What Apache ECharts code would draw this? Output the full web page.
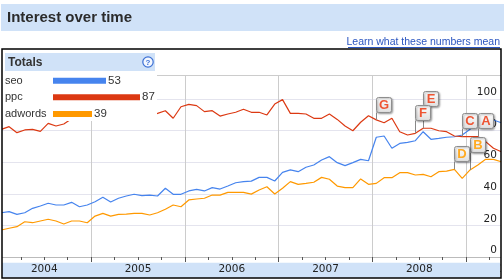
<!DOCTYPE html>
<html><head><meta charset="utf-8">
<script src="https://cdn.jsdelivr.net/npm/echarts@6/dist/echarts.min.js"></script>
<style>html,body{margin:0;padding:0;background:#fff}#c{width:504px;height:280px}</style>
</head><body><div id="c"></div>
<script>
// ---- data ----
const yearLabels = ['2004', '2005', '2006', '2007', '2008', '2009'];
const seriesNames = ['seo', 'ppc', 'adwords'];
const totals = [53, 87, 39];
// monthly values, Jan 2004 .. May 2009
const seo = [28.0, 28.7, 27.0, 28.0, 30.8, 32.3, 34.0, 32.9, 32.9, 34.6, 31.8, 32.9, 35.0, 37.8, 34.8, 37.2,
  38.6, 39.7, 38.8, 39.2, 38.6, 43.5, 39.7, 39.7, 41.8, 42.8, 41.8, 43.9, 43.0, 44.9, 47.0, 47.7,
  48.0, 50.4, 50.4, 48.1, 53.6, 55.1, 54.0, 56.8, 58.2, 61.4, 63.5, 59.7, 57.8, 59.7, 61.8, 60.9,
  75.8, 76.6, 68.8, 71.9, 72.6, 73.6, 79.3, 74.5, 75.1, 75.8, 76.1, 77.2, 80.8, 84.6, 85.0, 86.7, 85.0];
const ppc = [80.8, 82.5, 78.7, 80.4, 80.8, 79.5, 84.6, 82.9, 84.2, 87.5, 89.0, 88.5, 90.0, 88.0, 91.0, 89.0,
  90.5, 88.5, 91.5, 89.5, 90.9, 92.6, 87.8, 95.1, 96.6, 95.8, 92.0, 92.6, 89.2, 90.5, 91.6, 93.5,
  91.6, 91.6, 89.9, 96.8, 99.6, 90.9, 90.9, 90.5, 87.8, 87.8, 90.5, 87.1, 82.9, 79.9, 85.3, 89.4,
  86.8, 85.0, 87.8, 79.3, 77.2, 78.3, 81.5, 81.5, 79.9, 79.3, 76.6, 76.2, 76.2, 76.2, 73.0, 68.8, 66.6];
const adwords = [17.1, 18.2, 19.2, 22.3, 21.7, 22.8, 23.9, 22.8, 20.9, 22.8, 22.8, 21.7, 25.9, 27.6, 25.9, 27.0,
  27.1, 27.6, 27.6, 26.6, 28.0, 30.2, 32.9, 31.8, 36.1, 36.7, 37.2, 39.2, 39.2, 40.9, 40.9, 40.9,
  39.8, 42.4, 44.5, 39.9, 43.5, 47.7, 46.0, 46.6, 47.3, 50.4, 49.2, 44.9, 43.9, 43.9, 49.4, 46.0,
  46.6, 50.2, 50.2, 53.4, 53.4, 51.9, 52.3, 50.8, 54.0, 54.4, 55.5, 49.8, 55.1, 58.2, 61.8, 61.8, 60.3];
const flagLetters = ['G', 'E', 'F', 'C', 'A', 'B', 'D'];
const flagSeries = ['ppc', 'ppc', 'ppc', 'ppc', 'ppc', 'adwords', 'adwords'];
const flagIndex = [48, 54, 53, 59, 61, 60, 58];

// ---- styles / layout ----
const colors = { seo: '#4684ee', ppc: '#dc3912', adwords: '#ff9900' };
const letterColors = { ppc: '#ee5533', adwords: '#ffaa22' };
const flagLift = [8, 22, 13, 9, 9, 18, 8];
const seriesData = { seo, ppc, adwords };
const toPts = arr => arr.map((v, i) => [i + 0.5, v]);
const band = '#d0e2f8';
const sans = '"Liberation Sans", Arial, sans-serif';
const dv = '"DejaVu Sans", Verdana, sans-serif';

const chart = echarts.init(document.getElementById('c'), null, { renderer: 'canvas' });
chart.setOption({
  animation: false,
  grid: [
    { left: -2.6, top: 75.7, width: 519.5, height: 181.3, outerBoundsMode: 'none', containLabel: false },
    { left: 53, top: 72.4, width: 100, height: 49.8, outerBoundsMode: 'none', containLabel: false }
  ],
  xAxis: [
    { type: 'value', gridIndex: 0, min: 0, max: 66.5, interval: 3, position: 'bottom', z: 3,
      axisLine: { show: true, lineStyle: { color: '#bbbbbb', width: 1 } },
      axisTick: { show: true, length: 3, lineStyle: { color: '#555' } },
      splitLine: { show: false },
      axisLabel: { show: true, margin: 7, showMaxLabel: false, color: '#222', fontFamily: dv, fontSize: 10.5,
        formatter: v => (v % 12 === 6 ? yearLabels[(v - 6) / 12] : '') } },
    { type: 'value', gridIndex: 0, min: 0, max: 66.5, interval: 12, position: 'bottom', z: 3,
      axisLine: { show: false },
      axisTick: { show: true, length: 5, lineStyle: { color: '#555' } },
      splitLine: { show: true, lineStyle: { color: '#cccccc', width: 1 } },
      axisLabel: { show: false } },
    { type: 'value', gridIndex: 0, min: 0, max: 66.5, position: 'top', z: 3,
      axisLine: { show: true, lineStyle: { color: '#cccccc', width: 1 } },
      axisTick: { show: false }, splitLine: { show: false }, axisLabel: { show: false } },
    { type: 'value', gridIndex: 1, min: 0, max: 100, show: false }
  ],
  yAxis: [
    { type: 'value', gridIndex: 0, min: 0, max: 114.75, interval: 20, position: 'right', z: 3,
      axisLine: { show: false }, axisTick: { show: false },
      splitLine: { show: true, lineStyle: { color: '#e4e4ee', width: 1 } },
      axisLabel: { inside: true, margin: 20, showMaxLabel: false, verticalAlign: 'bottom', lineHeight: 13,
        color: '#222', fontFamily: dv, fontSize: 10.5 } },
    { type: 'category', gridIndex: 1, data: seriesNames, inverse: true, z: 20,
      axisLine: { show: false }, axisTick: { show: false },
      axisLabel: { align: 'left', margin: 48, color: '#333', fontFamily: sans, fontSize: 11 } }
  ],
  series: [
    { type: 'line', name: 'adwords', data: toPts(adwords), symbol: 'none', z: 4,
      lineStyle: { color: colors.adwords, width: 1.2 } },
    { type: 'line', name: 'seo', data: toPts(seo), symbol: 'none', z: 4,
      lineStyle: { color: colors.seo, width: 1.2 } },
    { type: 'line', name: 'ppc', data: toPts(ppc), symbol: 'none', z: 4,
      lineStyle: { color: colors.ppc, width: 1.2 } },
    { type: 'custom', name: 'flags', z: 6, clip: false,
      data: flagIndex.map((idx, k) => [idx + 0.5, seriesData[flagSeries[k]][idx], flagLift[k]]),
      renderItem: (params, api) => {
        const k = params.dataIndex;
        const p = api.coord([api.value(0), api.value(1)]);
        const lift = api.value(2);
        const x = Math.round(p[0]) + 0.5;
        const yb = Math.round(p[1] - lift) + 0.5;
        return { type: 'group', children: [
          { type: 'line', shape: { x1: x, y1: p[1], x2: x, y2: yb }, style: { stroke: '#888', lineWidth: 1 } },
          { type: 'rect', shape: { x: x, y: yb - 15, width: 15, height: 15, r: 2 },
            style: { fill: new echarts.graphic.LinearGradient(0, 0, 0, 1, [{ offset: 0, color: '#ffffff' }, { offset: 1, color: '#dedede' }]),
              stroke: '#8e8e8e', lineWidth: 1, shadowBlur: 2, shadowOffsetX: 1, shadowOffsetY: 1, shadowColor: 'rgba(0,0,0,0.35)' } },
          { type: 'text', style: { text: flagLetters[k], x: x + 7.5, y: yb - 7, align: 'center', verticalAlign: 'middle',
            fill: letterColors[flagSeries[k]], font: 'bold 13px ' + sans } }
        ] };
      } },
    { type: 'bar', xAxisIndex: 3, yAxisIndex: 1, z: 20, barWidth: 6,
      data: totals.map((v, i) => ({ value: v, itemStyle: { color: colors[seriesNames[i]] } })),
      label: { show: true, position: 'right', distance: 2, color: '#333', fontFamily: sans, fontSize: 11.5 } }
  ],
  graphic: [
    { type: 'rect', z: 1, shape: { x: 1, y: 4, width: 503, height: 27 }, style: { fill: band } },
    { type: 'text', z: 1, style: { text: 'Interest over time', x: 7, y: 18, verticalAlign: 'middle',
      font: 'bold 15px ' + sans, fill: '#2b2b2b' } },
    { type: 'text', z: 1, style: { text: 'Learn what these numbers mean', x: 500, y: 42, align: 'right', verticalAlign: 'middle',
      font: '10.5px ' + sans, fill: '#2a55c0' } },
    { type: 'line', z: 1, shape: { x1: 348, y1: 47.5, x2: 500, y2: 47.5 }, style: { stroke: '#2a55c0', lineWidth: 1 } },
    { type: 'rect', z: 1, shape: { x: 2, y: 262.7, width: 498, height: 15 }, style: { fill: band } },
    { type: 'rect', z: 10, shape: { x: 2, y: 49, width: 155, height: 72 }, style: { fill: '#fff' } },
    { type: 'rect', z: 11, shape: { x: 5, y: 53, width: 150, height: 18 }, style: { fill: band } },
    { type: 'text', z: 12, style: { text: 'Totals', x: 8, y: 62.5, verticalAlign: 'middle', font: 'bold 12px ' + sans, fill: '#333' } },
    { type: 'circle', z: 12, shape: { cx: 148, cy: 62, r: 5.2 }, style: { fill: '#f4f8ff', stroke: '#3b6fd4', lineWidth: 1.2 } },
    { type: 'text', z: 13, style: { text: '?', x: 148, y: 62.5, align: 'center', verticalAlign: 'middle', font: 'bold 8px ' + sans, fill: '#3b6fd4' } },
    { type: 'rect', z: 29, shape: { x: 0, y: 40, width: 2, height: 240 }, style: { fill: '#fff' } },
    { type: 'rect', z: 29, shape: { x: 501, y: 40, width: 3, height: 240 }, style: { fill: '#fff' } },
    { type: 'rect', z: 30, shape: { x: 2, y: 49, width: 499, height: 229 }, style: { fill: null, stroke: '#000', lineWidth: 1.5 } }
  ]
});
</script></body></html>
